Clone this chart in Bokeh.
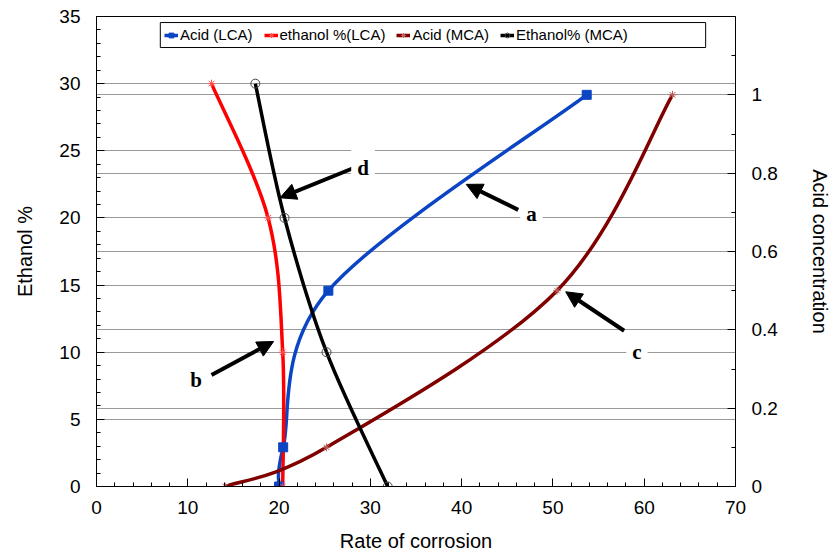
from bokeh.plotting import figure
from bokeh.models import (Range1d, LinearAxis, SingleIntervalTicker, Grid, Legend,
                          LegendItem, Arrow, NormalHead, Label, CustomJSTickFormatter,
                          BoxAnnotation)
from bokeh.embed import file_html
from bokeh.resources import INLINE

# ---- data ----
rate_acid_lca = [20.0, 20.45, 25.4, 53.7]
acid_lca = [0.0, 0.1, 0.5, 1.0]
rate_eth_lca = [12.6, 18.8, 20.4, 20.4]
eth_lca = [30, 20, 10, 0]
rate_acid_mca = [14.1, 25.2, 50.45, 63.1]
acid_mca = [0.0, 0.1, 0.5, 1.0]
rate_eth_mca = [17.4, 20.6, 25.2, 31.9]
eth_mca = [30, 20, 10, 0]

series_labels = ["Acid (LCA)", "ethanol %(LCA)", "Acid (MCA)", "Ethanol% (MCA)"]
annot_labels = ["a", "b", "c", "d"]

FONT = "Liberation Sans"


def smooth(xs, ys, t=1 / 6):
    """Bezier segments (Catmull-Rom style smoothing) between consecutive data points."""
    n = len(xs)
    d = dict(x0=[], y0=[], x1=[], y1=[], cx0=[], cy0=[], cx1=[], cy1=[])
    for i in range(n - 1):
        a = i - 1 if i > 0 else i
        b = i + 2 if i + 2 < n else i + 1
        d["x0"].append(xs[i]); d["y0"].append(ys[i])
        d["x1"].append(xs[i + 1]); d["y1"].append(ys[i + 1])
        d["cx0"].append(xs[i] + (xs[i + 1] - xs[a]) * t)
        d["cy0"].append(ys[i] + (ys[i + 1] - ys[a]) * t)
        d["cx1"].append(xs[i + 1] - (xs[b] - xs[i]) * t)
        d["cy1"].append(ys[i + 1] - (ys[b] - ys[i]) * t)
    return d


p = figure(width=833, height=560, x_range=Range1d(0, 70), y_range=Range1d(0, 35),
           output_backend="svg", toolbar_location=None,
           min_border_left=96, min_border_right=96, min_border_top=16, min_border_bottom=74)
p.extra_y_ranges = {"acid": Range1d(0, 1.2)}
p.outline_line_color = "black"
p.outline_line_width = 1
p.background_fill_color = "white"


def style_axis(ax):
    ax.axis_line_color = "black"
    ax.axis_line_width = 1
    ax.major_tick_in = 8
    ax.major_tick_out = 0
    ax.minor_tick_in = 4
    ax.minor_tick_out = 0
    ax.major_tick_line_color = "black"
    ax.minor_tick_line_color = "black"
    ax.major_label_text_font = FONT
    ax.major_label_text_font_size = "19px"
    ax.major_label_text_color = "black"
    ax.axis_label_text_font = FONT
    ax.axis_label_text_font_size = "20px"
    ax.axis_label_text_font_style = "normal"
    ax.axis_label_text_color = "black"


xax = p.xaxis[0]
xax.ticker = SingleIntervalTicker(interval=10, num_minor_ticks=5)
xax.axis_label = "Rate of corrosion"
style_axis(xax)
xax.major_label_standoff = 14
xax.axis_label_standoff = 13

yax = p.yaxis[0]
yax.ticker = SingleIntervalTicker(interval=5, num_minor_ticks=5)
yax.axis_label = "Ethanol %"
style_axis(yax)
yax.major_label_standoff = 16
yax.axis_label_standoff = 20

rticker = SingleIntervalTicker(interval=0.2, num_minor_ticks=2)
rax = LinearAxis(y_range_name="acid", ticker=rticker, axis_label="Acid concentration",
                 formatter=CustomJSTickFormatter(code="return (Math.round(tick*10)/10).toString();"))
style_axis(rax)
rax.major_label_standoff = 16
rax.axis_label_standoff = 28
p.add_layout(rax, "right")

# grids
p.xgrid.visible = False
p.ygrid.grid_line_color = "#9a9a9a"
p.ygrid.grid_line_width = 1
p.ygrid.ticker = yax.ticker
rgrid = Grid(dimension=1, ticker=rticker, y_range_name="acid",
             grid_line_color="#9a9a9a", grid_line_width=1)
p.add_layout(rgrid, "center")

BLUE = "#0b45c4"
RED = "#ff0000"
DRED = "#800000"

b1 = p.bezier(source=smooth(rate_acid_lca, acid_lca), x0="x0", y0="y0", x1="x1", y1="y1",
              cx0="cx0", cy0="cy0", cx1="cx1", cy1="cy1", line_color=BLUE, line_width=3.5,
              y_range_name="acid")
b2 = p.bezier(source=smooth(rate_eth_lca, eth_lca), x0="x0", y0="y0", x1="x1", y1="y1",
              cx0="cx0", cy0="cy0", cx1="cx1", cy1="cy1", line_color=RED, line_width=3.5)
b3 = p.bezier(source=smooth(rate_acid_mca, acid_mca), x0="x0", y0="y0", x1="x1", y1="y1",
              cx0="cx0", cy0="cy0", cx1="cx1", cy1="cy1", line_color=DRED, line_width=3.5,
              y_range_name="acid")
b4 = p.bezier(source=smooth(rate_eth_mca, eth_mca), x0="x0", y0="y0", x1="x1", y1="y1",
              cx0="cx0", cy0="cy0", cx1="cx1", cy1="cy1", line_color="black", line_width=3.5)

s1 = p.scatter(rate_acid_lca, acid_lca, marker="square", size=9, fill_color=BLUE,
               line_color=BLUE, y_range_name="acid")
s2 = p.scatter(rate_eth_lca, eth_lca, marker="asterisk", size=8, line_color="#ff5050",
               line_width=1)
s3 = p.scatter(rate_acid_mca, acid_mca, marker="asterisk", size=8, line_color="#c06060",
               line_width=1, y_range_name="acid")
s4 = p.scatter(rate_eth_mca, eth_mca, marker="circle", size=9, fill_alpha=0,
               line_color="#444444", line_width=1)

# legend frame (Excel-style wide box) drawn behind the legend entries
p.add_layout(BoxAnnotation(left=6.99, right=66.73, bottom=32.69, top=34.55,
                           fill_color="white", fill_alpha=1,
                           line_color="black", line_width=1, line_alpha=1))

legend = Legend(items=[LegendItem(label=series_labels[0], renderers=[b1, s1]),
                       LegendItem(label=series_labels[1], renderers=[b2, s2]),
                       LegendItem(label=series_labels[2], renderers=[b3, s3]),
                       LegendItem(label=series_labels[3], renderers=[b4, s4])],
                location=(64, 439), orientation="horizontal",
                label_text_font=FONT, label_text_font_size="15px",
                label_text_color="black",
                label_standoff=2, glyph_width=14, glyph_height=12, spacing=11,
                padding=4, margin=0, border_line_alpha=0,
                background_fill_alpha=0, label_height=15)
p.add_layout(legend, "center")

# annotation arrows (left-axis coordinates)
arrows = [
    (46.2, 20.6, 40.5, 22.5),   # a
    (12.6, 8.3, 19.4, 10.8),    # b
    (57.8, 11.6, 51.4, 14.5),   # c
    (28.1, 23.7, 20.1, 21.5),   # d
]
label_pos = [(47.65, 20.3), (10.9, 7.9), (59.2, 10.0), (29.2, 23.7)]

for (xs, ys, xe, ye) in arrows:
    p.add_layout(Arrow(end=NormalHead(size=16, fill_color="black", line_color="black"),
                       x_start=xs, y_start=ys, x_end=xe, y_end=ye,
                       line_color="black", line_width=4))

for txt, (lx, ly) in zip(annot_labels, label_pos):
    p.add_layout(Label(x=lx, y=ly, text=txt, text_font="Liberation Serif",
                       text_font_size="21px", text_font_style="bold",
                       text_color="black",
                       text_align="center", text_baseline="middle",
                       background_fill_color="white", background_fill_alpha=1,
                       padding=(6, 10)))

open("out.html", "w").write(file_html(p, INLINE))
